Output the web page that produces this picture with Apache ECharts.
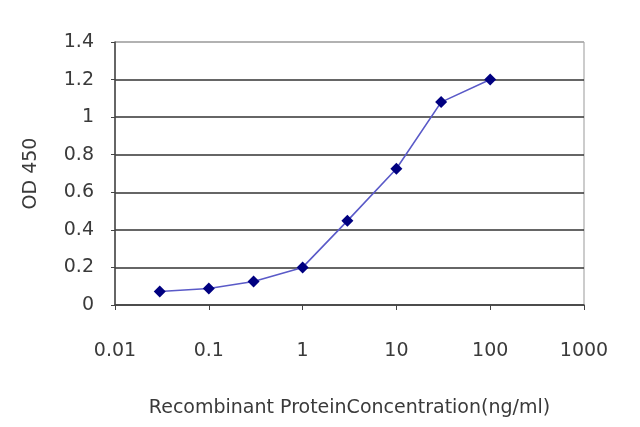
<!DOCTYPE html>
<html><head><meta charset="utf-8">
<script src="https://cdn.jsdelivr.net/npm/echarts@6/dist/echarts.min.js"></script>
<style>html,body{margin:0;padding:0;background:#fff}#c{width:640px;height:427px}</style>
</head><body><div id="c"></div>
<script>
const concentrations = [0.03, 0.1, 0.3, 1, 3, 10, 30, 100];
const od450 = [0.072, 0.088, 0.125, 0.2, 0.448, 0.725, 1.08, 1.2];
const xTickLabels = ['0.01', '0.1', '1', '10', '100', '1000'];
const yTickLabels = ['0', '0.2', '0.4', '0.6', '0.8', '1', '1.2', '1.4'];

const chart = echarts.init(document.getElementById('c'), null, {renderer: 'canvas'});
const font = 'DejaVu Sans';
chart.setOption({
  animation: false,
  backgroundColor: '#fff',
  grid: {left: 115, right: 56, top: 42, bottom: 122, show: true, borderColor: '#999', borderWidth: 1},
  xAxis: {
    type: 'log', logBase: 10, min: 0.01, max: 1000,
    name: 'Recombinant ProteinConcentration(ng/ml)',
    nameLocation: 'middle', nameGap: 94,
    nameTextStyle: {fontFamily: font, fontSize: 19, color: '#3a3a3a'},
    axisLine: {lineStyle: {color: '#444', width: 1.5}},
    axisTick: {show: true, length: 5, lineStyle: {color: '#444'}},
    splitLine: {show: false},
    minorTick: {show: false},
    axisLabel: {
      fontFamily: font, fontSize: 19, color: '#3a3a3a', margin: 37,
      formatter: v => xTickLabels[Math.round(Math.log10(v)) + 2]
    }
  },
  yAxis: {
    type: 'value', min: 0, max: 1.4, interval: 0.2,
    name: 'OD 450', nameLocation: 'middle', nameGap: 74, nameRotate: 90,
    nameTextStyle: {fontFamily: font, fontSize: 19, color: '#3a3a3a'},
    axisLine: {show: true, lineStyle: {color: '#444', width: 1.5}},
    axisTick: {show: true, length: 4, lineStyle: {color: '#444'}},
    splitLine: {show: true, lineStyle: {
      color: ['#444', '#333', '#333', '#333', '#333', '#333', '#333', '#aaa'],
      width: [1.5]
    }},
    axisLabel: {
      fontFamily: font, fontSize: 19, color: '#3a3a3a', margin: 21,
      formatter: v => yTickLabels[Math.round(v / 0.2)]
    }
  },
  series: [{
    type: 'line',
    data: concentrations.map((c, i) => [c, od450[i]]),
    symbol: 'diamond', symbolSize: 12,
    lineStyle: {color: '#5a5ac8', width: 1.6},
    itemStyle: {color: '#000080'}
  }]
});
</script></body></html>
